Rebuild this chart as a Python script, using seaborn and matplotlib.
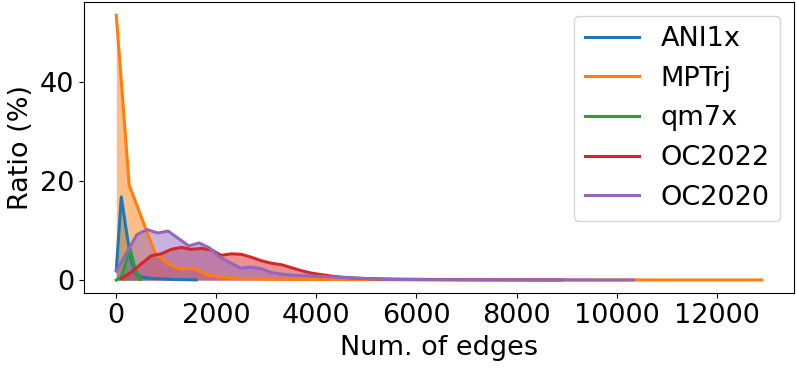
import matplotlib
matplotlib.use("Agg")
import matplotlib.pyplot as plt
import seaborn as sns

# values (ratio in % per bin)
ani1x_x = [0, 100, 200, 300, 400, 500, 600, 700, 800, 900, 1000, 1100, 1200, 1300, 1400, 1500, 1600]
ani1x_y = [2.0, 16.8, 10.0, 3.8, 1.2, 0.6, 0.45, 0.35, 0.3, 0.25, 0.2, 0.15, 0.12, 0.1, 0.08, 0.05, 0.03]

mptrj_x = [0, 258, 516, 774, 1032, 1290, 1548, 1806, 2064, 2322, 2580, 2838, 3100, 3600,
           4100, 4600, 5200, 6000, 7000, 8000, 9000, 10000, 11000, 12000, 12900]
mptrj_y = [53.5, 19.2, 12.3, 5.5, 3.3, 2.2, 2.4, 1.1, 0.6, 0.4, 0.3, 0.25, 0.2, 0.15,
           0.12, 0.1, 0.08, 0.06, 0.05, 0.04, 0.03, 0.03, 0.02, 0.02, 0.02]

qm7x_x = [0, 100, 200, 280, 380, 480]
qm7x_y = [0.0, 0.6, 3.8, 6.2, 2.2, 0.1]

oc2022_x = [100, 300, 500, 700, 900, 1100, 1300, 1500, 1700, 1900, 2100, 2300, 2500, 2700,
            2900, 3100, 3300, 3500, 3700, 3900, 4100, 4300, 4500, 4700, 4900, 5100,
            5500, 6000, 6500, 7000, 7500, 8000, 8500, 8900]
oc2022_y = [0.3, 1.6, 3.3, 4.9, 5.3, 6.2, 6.6, 6.2, 6.4, 6.1, 5.0, 5.3, 5.2, 4.6,
            3.9, 3.4, 3.1, 2.5, 1.9, 1.4, 1.1, 0.8, 0.6, 0.45, 0.35, 0.28,
            0.2, 0.15, 0.1, 0.07, 0.05, 0.04, 0.03, 0.02]

oc2020_x = [0, 207, 414, 621, 828, 1035, 1242, 1449, 1656, 1863, 2070, 2277, 2484, 2691,
            2898, 3105, 3312, 3519, 3726, 3933, 4140, 4347, 4554, 4761, 4968, 5175,
            5600, 6200, 7000, 8000, 9000, 10340]
oc2020_y = [1.8, 5.5, 9.2, 10.2, 9.5, 9.9, 8.4, 6.9, 7.5, 6.5, 4.6, 3.5, 2.4, 2.6,
            2.3, 1.5, 1.2, 1.0, 0.9, 0.8, 0.7, 0.6, 0.5, 0.4, 0.3, 0.2,
            0.12, 0.08, 0.05, 0.03, 0.02, 0.01]

series = [
    ("ANI1x", ani1x_x, ani1x_y, "tab:blue"),
    ("MPTrj", mptrj_x, mptrj_y, "tab:orange"),
    ("qm7x", qm7x_x, qm7x_y, "tab:green"),
    ("OC2022", oc2022_x, oc2022_y, "tab:red"),
    ("OC2020", oc2020_x, oc2020_y, "tab:purple"),
]

plt.rcParams["font.size"] = 19.5
plt.rcParams["font.family"] = ["DejaVu Sans"]

fig = plt.figure(figsize=(7.97, 3.7), dpi=100)
ax = fig.add_axes([0.1054, 0.2073, 0.8908, 0.7873])

for name, xs, ys, col in series:
    sns.lineplot(x=xs, y=ys, ax=ax, label=name, color=col, linewidth=2.2)
    ax.fill_between(xs, ys, color=col, alpha=0.5, linewidth=0)

ax.set_xlabel("Num. of edges")
ax.set_ylabel("Ratio (%)")
ax.legend(loc="upper right")

fig.savefig("out.png", dpi=100)
